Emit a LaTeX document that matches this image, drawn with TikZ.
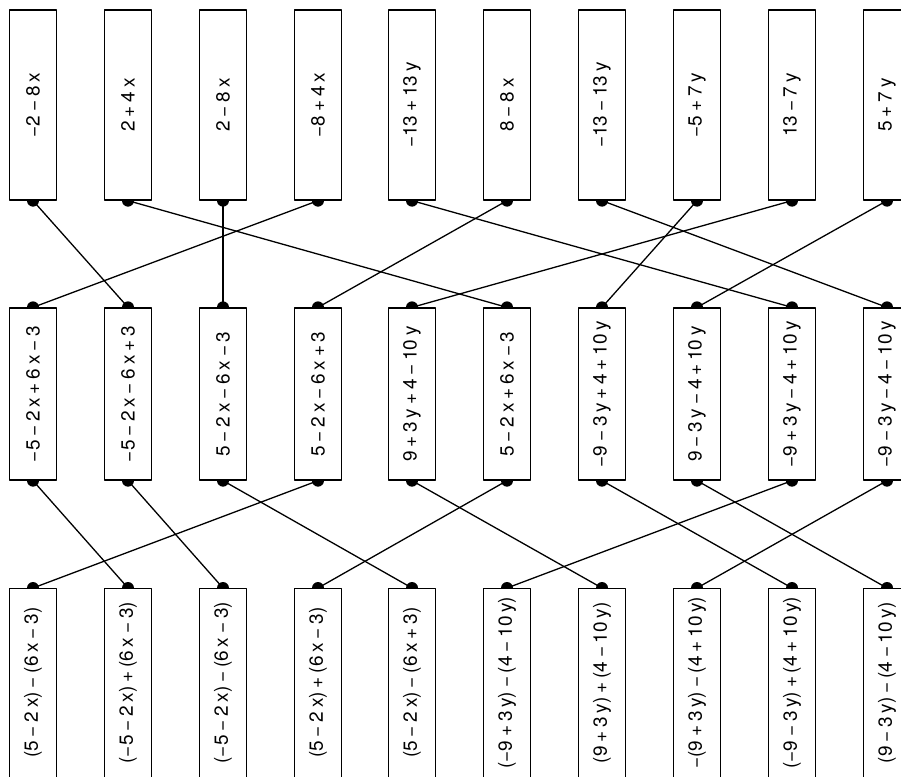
\documentclass[tikz,border=0pt]{standalone}
\usepackage{graphicx}
\usepackage{fontspec}
\setmainfont{TeX Gyre Heros}[WordSpace=0.72]
\usepackage{tikz}
\usetikzlibrary{backgrounds}
\newcommand{\uptext}[2]{\rotatebox{90}{\makebox[#1]{#2}}}
\tikzset{
  every picture/.append style={line cap=round,line join=round},
  expr box/.style={draw,fill=white,line width=1.3pt,inner sep=0pt,minimum width=47pt,
    font=\fontsize{19}{23}\selectfont},
  first row/.style={expr box,minimum height=190pt},
  middle row/.style={expr box,minimum height=172pt},
  last row/.style={expr box,anchor=north,text depth=30pt},
  pair line/.style={line width=1.3pt},
  pair dot/.style={black}
}
\begin{document}
\begin{tikzpicture}[x=1pt,y=-1pt]
\useasboundingbox (0,0) rectangle (901,776);
% simplified expressions
\node[first row] (a1) at (33,105) {\uptext{150pt}{−2 − 8 x}};
\node[first row] (a2) at (128,105) {\uptext{150pt}{2 + 4 x}};
\node[first row] (a3) at (223,105) {\uptext{150pt}{2 − 8 x}};
\node[first row] (a4) at (318,105) {\uptext{150pt}{−8 + 4 x}};
\node[first row] (a5) at (412,105) {\uptext{150pt}{−13 + 13 y}};
\node[first row] (a6) at (507,105) {\uptext{150pt}{8 − 8 x}};
\node[first row] (a7) at (602,105) {\uptext{150pt}{−13 − 13 y}};
\node[first row] (a8) at (697,105) {\uptext{150pt}{−5 + 7 y}};
\node[first row] (a9) at (792,105) {\uptext{150pt}{13 − 7 y}};
\node[first row] (a10) at (887,105) {\uptext{150pt}{5 + 7 y}};
% brackets removed
\node[middle row] (b1) at (33,394) {\uptext{150pt}{−5 − 2 x + 6 x − 3}};
\node[middle row] (b2) at (128,394) {\uptext{150pt}{−5 − 2 x − 6 x + 3}};
\node[middle row] (b3) at (223,394) {\uptext{150pt}{5 − 2 x − 6 x − 3}};
\node[middle row] (b4) at (318,394) {\uptext{150pt}{5 − 2 x − 6 x + 3}};
\node[middle row] (b5) at (412,394) {\uptext{150pt}{9 + 3 y + 4 − 10 y}};
\node[middle row] (b6) at (507,394) {\uptext{150pt}{5 − 2 x + 6 x − 3}};
\node[middle row] (b7) at (602,394) {\uptext{150pt}{−9 − 3 y + 4 + 10 y}};
\node[middle row] (b8) at (697,394) {\uptext{150pt}{9 − 3 y − 4 + 10 y}};
\node[middle row] (b9) at (792,394) {\uptext{150pt}{−9 + 3 y − 4 + 10 y}};
\node[middle row] (b10) at (887,394) {\uptext{150pt}{−9 − 3 y − 4 − 10 y}};
% with brackets
\node[last row] (c1) at (33,588) {\uptext{188pt}{(5 − 2 x) − (6 x − 3)}};
\node[last row] (c2) at (128,588) {\uptext{188pt}{(−5 − 2 x) + (6 x − 3)}};
\node[last row] (c3) at (223,588) {\uptext{188pt}{(−5 − 2 x) − (6 x − 3)}};
\node[last row] (c4) at (318,588) {\uptext{188pt}{(5 − 2 x) + (6 x − 3)}};
\node[last row] (c5) at (412,588) {\uptext{188pt}{(5 − 2 x) − (6 x + 3)}};
\node[last row] (c6) at (507,588) {\uptext{188pt}{(−9 + 3 y) − (4 − 10 y)}};
\node[last row] (c7) at (602,588) {\uptext{188pt}{(9 + 3 y) + (4 − 10 y)}};
\node[last row] (c8) at (697,588) {\uptext{188pt}{−(9 + 3 y) − (4 + 10 y)}};
\node[last row] (c9) at (792,588) {\uptext{188pt}{(−9 − 3 y) + (4 + 10 y)}};
\node[last row] (c10) at (887,588) {\uptext{188pt}{(9 − 3 y) − (4 − 10 y)}};
\begin{scope}[on background layer]
\foreach \i in {1,...,10} {
  \fill[pair dot] (a\i.south) circle (6pt);
  \fill[pair dot] (b\i.north) circle (6pt);
  \fill[pair dot] (b\i.south) circle (6pt);
  \fill[pair dot] (c\i.north) circle (6pt);
}
\draw[pair line] (a1.south) -- (b2.north);
\draw[pair line] (a2.south) -- (b6.north);
\draw[pair line] (a3.south) -- (b3.north);
\draw[pair line] (a4.south) -- (b1.north);
\draw[pair line] (a5.south) -- (b9.north);
\draw[pair line] (a6.south) -- (b4.north);
\draw[pair line] (a7.south) -- (b10.north);
\draw[pair line] (a8.south) -- (b7.north);
\draw[pair line] (a9.south) -- (b5.north);
\draw[pair line] (a10.south) -- (b8.north);
\draw[pair line] (b1.south) -- (c2.north);
\draw[pair line] (b2.south) -- (c3.north);
\draw[pair line] (b3.south) -- (c5.north);
\draw[pair line] (b4.south) -- (c1.north);
\draw[pair line] (b5.south) -- (c7.north);
\draw[pair line] (b6.south) -- (c4.north);
\draw[pair line] (b7.south) -- (c9.north);
\draw[pair line] (b8.south) -- (c10.north);
\draw[pair line] (b9.south) -- (c6.north);
\draw[pair line] (b10.south) -- (c8.north);
\end{scope}
\end{tikzpicture}
\end{document}
